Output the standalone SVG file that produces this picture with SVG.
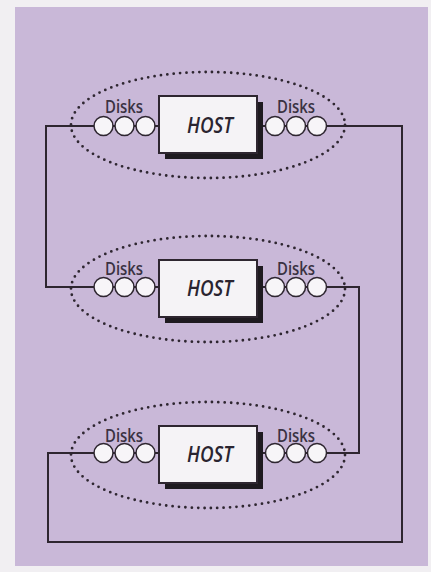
<svg xmlns="http://www.w3.org/2000/svg" width="431" height="572" viewBox="0 0 431 572">
<style>
.bg{fill:#c9b8d8}
.wire{fill:none;stroke:#2e2630;stroke-width:2}
.ring{fill:none;stroke:#2e2630;stroke-width:2.8;stroke-dasharray:0 6.4;stroke-linecap:round}
.disk{fill:#f7f5f8;stroke:#2e2630;stroke-width:1.5}
.shadow{fill:#1e1a20}
.box{fill:#f5f3f6;stroke:#2e2630;stroke-width:2}
.lbl{font-family:"Open Sans",sans-serif;font-weight:600;font-size:18px;fill:#3a3242;text-anchor:middle}
.host{font-family:"Open Sans",sans-serif;font-weight:600;font-style:italic;font-size:22px;fill:#2a2430;text-anchor:middle}
</style>
<rect width="431" height="572" fill="#f1eff2"/>
<rect class="bg" x="15" y="7" width="413" height="559"/>
<g id="connectors">
<polyline class="wire" points="94,126 46,126 46,287 94,287"/>
<polyline class="wire" points="325,126 402,126 402,542 48,542 48,453 94,453"/>
<polyline class="wire" points="325,287 359,287 359,453 325,453"/>
</g>
<g id="host1" transform="translate(0,126)">
<ellipse class="ring" cx="208" cy="-1" rx="137" ry="53"/>
<line class="wire" x1="94" y1="0" x2="160" y2="0"/>
<line class="wire" x1="257" y1="0" x2="325" y2="0"/>
<rect class="shadow" x="165" y="-24" width="98" height="57"/>
<rect class="box" x="159" y="-30" width="98" height="57"/>
<text class="host" x="210" y="7" textLength="46" lengthAdjust="spacingAndGlyphs">HOST</text>
<circle class="disk" cx="103.5" cy="0" r="9.5"/>
<circle class="disk" cx="124.5" cy="0" r="9.5"/>
<circle class="disk" cx="145.5" cy="0" r="9.5"/>
<circle class="disk" cx="275" cy="0" r="9.5"/>
<circle class="disk" cx="296" cy="0" r="9.5"/>
<circle class="disk" cx="317" cy="0" r="9.5"/>
<text class="lbl" x="124" y="-13" textLength="38" lengthAdjust="spacingAndGlyphs">Disks</text>
<text class="lbl" x="296" y="-13" textLength="38" lengthAdjust="spacingAndGlyphs">Disks</text>
</g>
<g id="host2" transform="translate(0,287)">
<ellipse class="ring" cx="208" cy="2" rx="137" ry="53"/>
<line class="wire" x1="94" y1="0" x2="160" y2="0"/>
<line class="wire" x1="257" y1="0" x2="325" y2="0"/>
<rect class="shadow" x="165" y="-21" width="98" height="57"/>
<rect class="box" x="159" y="-27" width="98" height="57"/>
<text class="host" x="210" y="9" textLength="46" lengthAdjust="spacingAndGlyphs">HOST</text>
<circle class="disk" cx="103.5" cy="0" r="9.5"/>
<circle class="disk" cx="124.5" cy="0" r="9.5"/>
<circle class="disk" cx="145.5" cy="0" r="9.5"/>
<circle class="disk" cx="275" cy="0" r="9.5"/>
<circle class="disk" cx="296" cy="0" r="9.5"/>
<circle class="disk" cx="317" cy="0" r="9.5"/>
<text class="lbl" x="124" y="-12" textLength="38" lengthAdjust="spacingAndGlyphs">Disks</text>
<text class="lbl" x="296" y="-12" textLength="38" lengthAdjust="spacingAndGlyphs">Disks</text>
</g>
<g id="host3" transform="translate(0,453)">
<ellipse class="ring" cx="208" cy="2" rx="137" ry="53"/>
<line class="wire" x1="94" y1="0" x2="160" y2="0"/>
<line class="wire" x1="257" y1="0" x2="325" y2="0"/>
<rect class="shadow" x="165" y="-21" width="98" height="57"/>
<rect class="box" x="159" y="-27" width="98" height="57"/>
<text class="host" x="210" y="9" textLength="46" lengthAdjust="spacingAndGlyphs">HOST</text>
<circle class="disk" cx="103.5" cy="0" r="9.5"/>
<circle class="disk" cx="124.5" cy="0" r="9.5"/>
<circle class="disk" cx="145.5" cy="0" r="9.5"/>
<circle class="disk" cx="275" cy="0" r="9.5"/>
<circle class="disk" cx="296" cy="0" r="9.5"/>
<circle class="disk" cx="317" cy="0" r="9.5"/>
<text class="lbl" x="124" y="-11" textLength="38" lengthAdjust="spacingAndGlyphs">Disks</text>
<text class="lbl" x="296" y="-11" textLength="38" lengthAdjust="spacingAndGlyphs">Disks</text>
</g>
</svg>
